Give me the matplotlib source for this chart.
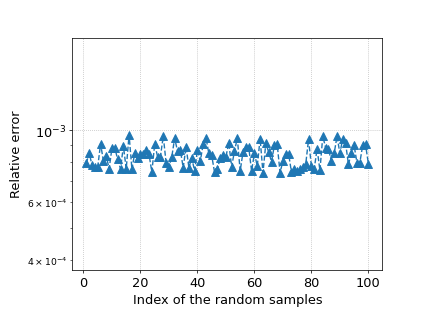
import matplotlib
matplotlib.use('Agg')
import matplotlib.pyplot as plt
import numpy as np


# relative error of each random sample
sample_index = np.arange(1, 101)
relative_error = np.array([
    7.92, 8.54, 7.80, 7.73, 7.73, 9.10, 8.05, 8.34, 7.62, 8.84,
    8.84, 8.14, 7.62, 8.95, 7.62, 9.70, 7.59, 8.54, 8.22, 8.44,
    8.44, 8.70, 8.44, 7.44, 9.10, 8.30, 8.30, 9.61, 7.95, 7.71,
    8.30, 9.47, 8.64, 8.70, 7.68, 8.91, 7.68, 8.24, 7.50, 8.70,
    8.05, 9.06, 9.49, 8.50, 8.38, 7.44, 7.59, 8.24, 8.42, 8.30,
    9.16, 7.73, 8.64, 9.47, 7.50, 8.58, 8.91, 8.89, 7.50, 8.50,
    7.77, 9.43, 7.41, 9.12, 8.58, 8.01, 8.99, 9.06, 7.41, 8.05,
    8.48, 8.48, 7.44, 7.59, 7.50, 7.59, 7.71, 7.86, 9.38, 7.77,
    7.62, 8.78, 7.53, 9.61, 8.84, 8.78, 8.05, 8.50, 9.61, 8.50,
    9.43, 9.16, 7.86, 8.50, 8.99, 7.95, 7.95, 8.99, 9.06, 7.90,
]) * 1e-4


def main():
    fig, ax = plt.subplots(figsize=(6.4, 4.8), dpi=66.4)
    fig.subplots_adjust(left=0.17, bottom=0.15, right=0.9, top=0.88)

    ax.plot(sample_index, relative_error, linestyle='--', marker='^', markersize=8)
    ax.set_yscale('log')
    ax.set_ylim(3.71e-4, 1.934e-3)

    ax.set_xlabel('Index of the random samples', fontsize=14)
    ax.set_ylabel('Relative error', fontsize=14)
    plt.xticks(fontsize=14)
    plt.yticks(fontsize=14)
    ax.grid(linestyle=':')

    fig.savefig('out.png', dpi=66.4)
    plt.close(fig)


if __name__ == '__main__':
    main()
